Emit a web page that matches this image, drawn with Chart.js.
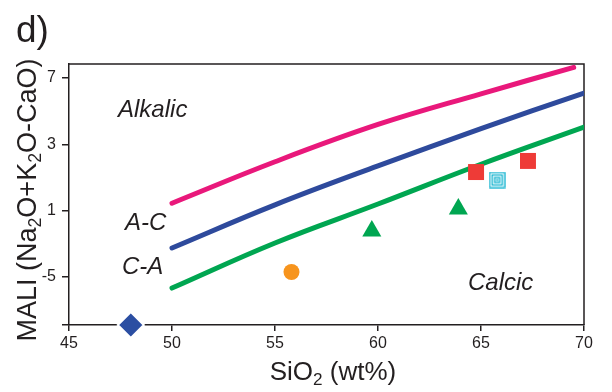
<!DOCTYPE html>
<html>
<head>
<meta charset="utf-8">
<script src="https://cdn.jsdelivr.net/npm/chart.js@4.4.1/dist/chart.umd.min.js"></script>
<style>
  html, body { margin: 0; padding: 0; background: #fff; }
  #wrap { width: 612px; height: 392px; }
</style>
</head>
<body>
<div id="wrap"><canvas id="mali"></canvas></div>
<script>
// boundary curves (SiO2 wt% vs MALI)
const alkalicX = [50, 55, 60, 65, 69.5]
const alkalicY = [-0.55, 1.95, 4.2, 6.05, 7.65]
const alkaliCalcicX = [50, 55, 60, 65, 70]
const alkaliCalcicY = [-3.25, -0.65, 1.7, 3.95, 6.1]
const calcAlkalicX = [50, 55, 60, 65, 70]
const calcAlkalicY = [-5.67, -2.95, -0.6, 1.8, 4.04]

// samples
const diamondX = [48.0]
const diamondY = [-7.9]
const circleX = [55.8]
const circleY = [-4.7]
const triangleX = [59.7, 63.9]
const triangleY = [-2.23, -0.9]
const squareX = [64.76, 67.28]
const squareY = [1.33, 2.0]
const ringX = [65.78]
const ringY = [0.85]

// axis ticks
const xTicks = [45, 50, 55, 60, 65, 70]
const yTickValues = [7, 3, -1, -5, -7.9]
const yTickLabels = ['7', '3', '1', '-5', '']

const ink = '#231f20'
const font = 'Liberation Sans, Arial, Helvetica, sans-serif'

function pts(xs, ys) {
    return xs.map((x, i) => ({ x: x, y: ys[i] }))
}

// concentric square marker
function ringMarker() {
    const c = document.createElement('canvas')
    c.width = 17; c.height = 17
    const g = c.getContext('2d')
    g.fillStyle = '#fff'
    g.fillRect(0, 0, 17, 17)
    g.strokeStyle = '#12b3cf'
    g.lineWidth = 1.3
    ;[1, 3.5, 6].forEach(d => g.strokeRect(d, d, 17 - 2 * d, 17 - 2 * d))
    g.fillStyle = '#12b3cf'
    g.fillRect(7.5, 7.5, 2, 2)
    return c
}

function curve(xs, ys, color) {
    return {
        data: pts(xs, ys), showLine: true, borderColor: color, borderWidth: 5,
        pointRadius: 0, tension: 0.4, borderCapStyle: 'round',
        order: 2
    }
}

function marker(xs, ys, style, radius, color, extra) {
    return Object.assign({
        data: pts(xs, ys), showLine: false, pointStyle: style, pointRadius: radius,
        backgroundColor: color, borderColor: color, borderWidth: 0, order: 1, clip: false
    }, extra || {})
}

// text with subscripts: parts = [[text, isSub], ...]
function drawRich(ctx, parts, size, x, y) {
    const sub = size * 0.66
    let w = 0
    parts.forEach(p => {
        ctx.font = (p[1] ? sub : size) + 'px ' + font
        w += ctx.measureText(p[0]).width
    })
    let cx = x - w / 2
    parts.forEach(p => {
        ctx.font = (p[1] ? sub : size) + 'px ' + font
        ctx.fillText(p[0], cx, p[1] ? y + size * 0.2 : y)
        cx += ctx.measureText(p[0]).width
    })
}

const decor = {
    id: 'decor',
    beforeDatasetsDraw(chart) {
        const ctx = chart.ctx, a = chart.chartArea
        ctx.save()
        ctx.strokeStyle = ink
        ctx.lineWidth = 1.5
        ctx.beginPath()
        ctx.moveTo(a.left, a.top)
        ctx.lineTo(a.right, a.top)
        ctx.lineTo(a.right, a.bottom)
        ctx.stroke()
        ctx.restore()
    },
    afterDraw(chart) {
        const ctx = chart.ctx
        const xs = chart.scales.x, ys = chart.scales.y
        ctx.save()
        ctx.fillStyle = ink
        ctx.textBaseline = 'alphabetic'
        ctx.textAlign = 'left'

        ctx.font = '37px ' + font
        ctx.fillText('d)', 16, 42)

        ctx.font = 'italic 24px ' + font
        const labels = [['Alkalic', 47.38, 4.65], ['A-C', 47.72, -2.17], ['C-A', 47.57, -4.82], ['Calcic', 64.37, -5.79]]
        labels.forEach(l => ctx.fillText(l[0], xs.getPixelForValue(l[1]), ys.getPixelForValue(l[2])))

        drawRich(ctx, [['SiO', false], ['2', true], [' (wt%)', false]], 26, 333, 380)

        ctx.translate(36, 200)
        ctx.rotate(-Math.PI / 2)
        drawRich(ctx, [['MALI (Na', false], ['2', true], ['O+K', false], ['2', true], ['O-CaO)', false]], 27, 0, 0)
        ctx.restore()
    }
}

new Chart(document.getElementById('mali'), {
    type: 'scatter',
    data: {
        datasets: [
            curve(alkalicX, alkalicY, '#e9187b'),
            curve(alkaliCalcicX, alkaliCalcicY, '#2e4a9c'),
            curve(calcAlkalicX, calcAlkalicY, '#00a651'),
            marker(diamondX, diamondY, 'rectRot', 13, '#2b4ea2', { borderColor: '#fff', borderWidth: 2 }),
            marker(circleX, circleY, 'circle', 8, '#f7941d'),
            marker(triangleX, triangleY, 'triangle', 11, '#00a651'),
            marker(squareX, squareY, 'rect', 11.3, '#ee3b37'),
            marker(ringX, ringY, ringMarker(), 8, '#12b3cf')
        ]
    },
    options: {
        responsive: true,
        maintainAspectRatio: false,
        animation: false,
        events: [],
        layout: { padding: { left: 0, top: 64, right: 28, bottom: 0 } },
        plugins: { legend: { display: false }, tooltip: { enabled: false } },
        scales: {
            x: {
                type: 'linear', min: 45, max: 70,
                afterFit: s => { s.height = 67 },
                afterBuildTicks: s => { s.ticks = xTicks.map(v => ({ value: v })) },
                grid: { drawOnChartArea: false, tickLength: 6, color: ink, lineWidth: 1.5 },
                border: { color: ink, width: 1.5 },
                ticks: { color: ink, font: { family: font, size: 16 }, padding: 3, maxRotation: 0 }
            },
            y: {
                type: 'linear', min: -7.9, max: 7.85,
                afterFit: s => { s.width = 69 },
                afterBuildTicks: s => { s.ticks = yTickValues.map(v => ({ value: v })) },
                grid: { drawOnChartArea: false, tickLength: 7, color: ink, lineWidth: 1.5 },
                border: { color: ink, width: 1.5 },
                ticks: {
                    color: ink, font: { family: font, size: 16 }, padding: 6,
                    callback: v => yTickLabels[yTickValues.indexOf(v)]
                }
            }
        }
    },
    plugins: [decor]
})
</script>
</body>
</html>
